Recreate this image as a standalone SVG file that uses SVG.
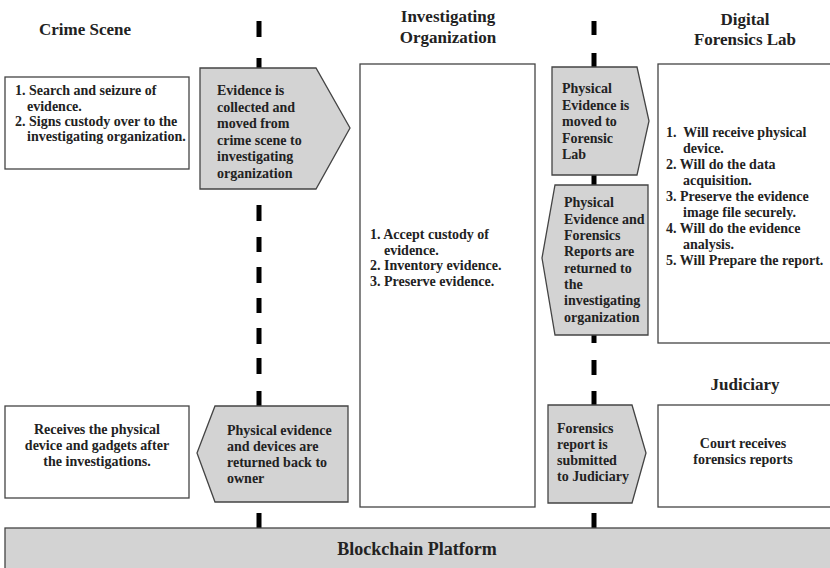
<svg xmlns="http://www.w3.org/2000/svg" width="830" height="568" viewBox="0 0 830 568">
<style>
text{font-family:"Liberation Serif","Times New Roman",serif;font-weight:bold;fill:#222;font-size:14px}
.t{font-size:17px;text-anchor:middle}
.c{text-anchor:middle}
.box{fill:#fff;stroke:#444;stroke-width:1.3}
.arr{fill:#d3d3d3;stroke:#444;stroke-width:1.3}
.dash{stroke:#000;stroke-width:5}
</style>
<rect width="830" height="568" fill="#fff"/>
<g id="connectors">
<path class="dash" d="M259,21V37M259,58V68M259,205V221M259,237V252M259,267V283M259,298V313M259,328V344M259,358V374M259,391V406M259,513V528"/>
<path class="dash" d="M594,21V35M594,53V67M594,174V185M594,335V343M594,360V375M594,391V405M594,513V528"/>
</g>
<g id="titles">
<text class="t" x="85" y="35">Crime Scene</text>
<text class="t" x="448" y="22">Investigating</text>
<text class="t" x="448" y="43">Organization</text>
<text class="t" x="745" y="25">Digital</text>
<text class="t" x="745" y="45">Forensics Lab</text>
<text class="t" x="745" y="390">Judiciary</text>
</g>
<g id="crime-scene-tasks">
<rect class="box" x="5" y="77" width="184" height="92"/>
<text><tspan x="15" y="95">1. Search and seizure of</tspan><tspan x="27" y="111">evidence.</tspan><tspan x="15" y="126">2. Signs custody over to the</tspan><tspan x="27" y="141">investigating organization.</tspan></text>
</g>
<g id="evidence-collected">
<polygon class="arr" points="200,68 316,68 350,128 316,189 200,189"/>
<text><tspan x="217" y="95">Evidence is</tspan><tspan x="217" y="111.5">collected and</tspan><tspan x="217" y="128">moved from</tspan><tspan x="217" y="144.5">crime scene to</tspan><tspan x="217" y="161">investigating</tspan><tspan x="217" y="177.5">organization</tspan></text>
</g>
<g id="investigating-org">
<rect class="box" x="360" y="64" width="175" height="443"/>
<text><tspan x="370" y="239">1. Accept custody of</tspan><tspan x="384" y="255">evidence.</tspan><tspan x="370" y="270">2. Inventory evidence.</tspan><tspan x="370" y="286">3. Preserve evidence.</tspan></text>
</g>
<g id="to-forensic-lab">
<polygon class="arr" points="552,67 637,67 649,121 637,175 552,175"/>
<text><tspan x="562" y="93">Physical</tspan><tspan x="562" y="109.5">Evidence is</tspan><tspan x="562" y="126">moved to</tspan><tspan x="562" y="142.5">Forensic</tspan><tspan x="562" y="159">Lab</tspan></text>
</g>
<g id="returned-to-org">
<polygon class="arr" points="555,185 648,185 648,335 555,335 542,258"/>
<text><tspan x="564" y="207">Physical</tspan><tspan x="564" y="223.5">Evidence and</tspan><tspan x="564" y="240">Forensics</tspan><tspan x="564" y="256">Reports are</tspan><tspan x="564" y="272.5">returned to</tspan><tspan x="564" y="289">the</tspan><tspan x="564" y="305">investigating</tspan><tspan x="564" y="321.5">organization</tspan></text>
</g>
<g id="forensics-lab">
<rect class="box" x="658" y="64" width="180" height="279"/>
<text><tspan x="666" y="137">1.&#160; Will receive physical</tspan><tspan x="683" y="153">device.</tspan><tspan x="666" y="169">2. Will do the data</tspan><tspan x="683" y="185">acquisition.</tspan><tspan x="666" y="201">3. Preserve the evidence</tspan><tspan x="683" y="217">image file securely.</tspan><tspan x="666" y="233">4. Will do the evidence</tspan><tspan x="683" y="249">analysis.</tspan><tspan x="666" y="265">5. Will Prepare the report.</tspan></text>
</g>
<g id="owner-receives">
<rect class="box" x="5" y="406" width="184" height="92"/>
<text class="c"><tspan x="97" y="434">Receives the physical</tspan><tspan x="97" y="450">device and gadgets after</tspan><tspan x="97" y="466">the investigations.</tspan></text>
</g>
<g id="returned-to-owner">
<polygon class="arr" points="215,406 348,406 348,502 215,502 197,453"/>
<text><tspan x="227" y="435">Physical evidence</tspan><tspan x="227" y="451">and devices are</tspan><tspan x="227" y="467">returned back to</tspan><tspan x="227" y="483">owner</tspan></text>
</g>
<g id="to-judiciary">
<polygon class="arr" points="548,405 632,405 646,453 632,503 548,503"/>
<text><tspan x="557" y="433">Forensics</tspan><tspan x="557" y="449">report is</tspan><tspan x="557" y="465">submitted</tspan><tspan x="557" y="481">to Judiciary</tspan></text>
</g>
<g id="judiciary">
<rect class="box" x="658" y="405" width="180" height="102"/>
<text class="c"><tspan x="743" y="448">Court receives</tspan><tspan x="743" y="464">forensics reports</tspan></text>
</g>
<g id="blockchain">
<rect class="arr" x="5" y="528" width="830" height="50"/>
<text class="c" x="417" y="555" style="font-size:18px">Blockchain Platform</text>
</g>
</svg>
